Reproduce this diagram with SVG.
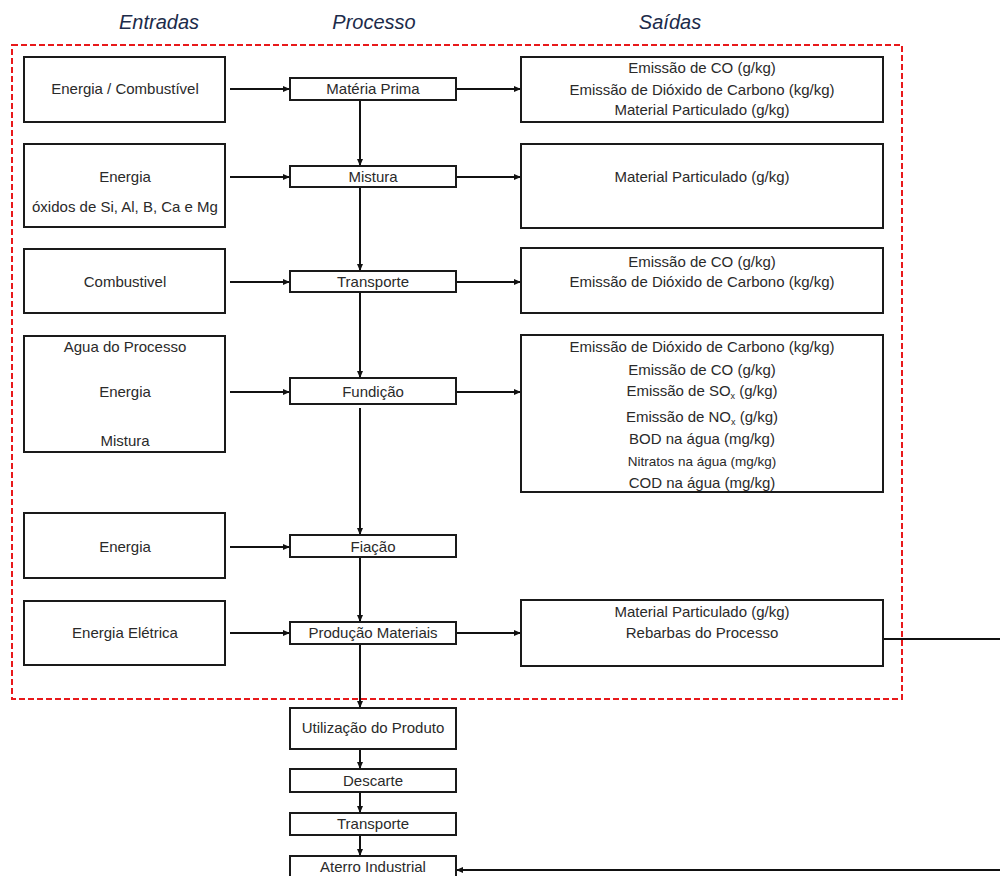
<svg xmlns="http://www.w3.org/2000/svg" width="1000" height="876" viewBox="0 0 1000 876">
<defs>
<marker id="ah" markerWidth="7" markerHeight="7" refX="6" refY="3.5" orient="auto" markerUnits="userSpaceOnUse">
<path d="M0,0.5 L7,3.5 L0,6.5 Z" fill="#111"/>
</marker>
<style>
.box{fill:#fff;stroke:#1a1a1a;stroke-width:2}
.t{font-family:"Liberation Sans",Arial,sans-serif;font-size:15px;fill:#2a2a2a;text-anchor:middle}
.s{font-size:13.5px}
.h{font-family:"Liberation Sans",Arial,sans-serif;font-size:20px;font-style:italic;fill:#1c2b4a;text-anchor:middle}
.c{fill:none;stroke:#111;stroke-width:2}
.sub{font-size:9px}
</style>
</defs>
<rect width="1000" height="876" fill="#fff"/>
<g id="headers">
<text class="h" x="159" y="29">Entradas</text>
<text class="h" x="374" y="29">Processo</text>
<text class="h" x="670" y="29">Saídas</text>
</g>
<rect id="boundary" x="12" y="45" width="890" height="654" fill="none" stroke="#e8191b" stroke-width="2" stroke-dasharray="6,3"/>
<g id="connectors">
<line class="c" x1="230" y1="89" x2="289" y2="89" marker-end="url(#ah)"/>
<line class="c" x1="230" y1="177" x2="289" y2="177" marker-end="url(#ah)"/>
<line class="c" x1="230" y1="282" x2="289" y2="282" marker-end="url(#ah)"/>
<line class="c" x1="230" y1="392" x2="289" y2="392" marker-end="url(#ah)"/>
<line class="c" x1="230" y1="547" x2="289" y2="547" marker-end="url(#ah)"/>
<line class="c" x1="230" y1="633" x2="289" y2="633" marker-end="url(#ah)"/>
<line class="c" x1="456" y1="89" x2="520" y2="89" marker-end="url(#ah)"/>
<line class="c" x1="456" y1="177" x2="520" y2="177" marker-end="url(#ah)"/>
<line class="c" x1="456" y1="282" x2="520" y2="282" marker-end="url(#ah)"/>
<line class="c" x1="456" y1="392" x2="520" y2="392" marker-end="url(#ah)"/>
<line class="c" x1="456" y1="633" x2="520" y2="633" marker-end="url(#ah)"/>
<line class="c" x1="360" y1="100" x2="360" y2="165" marker-end="url(#ah)"/>
<line class="c" x1="360" y1="187" x2="360" y2="270" marker-end="url(#ah)"/>
<line class="c" x1="360" y1="292" x2="360" y2="377" marker-end="url(#ah)"/>
<line class="c" x1="360" y1="408" x2="360" y2="534" marker-end="url(#ah)"/>
<line class="c" x1="360" y1="557" x2="360" y2="621" marker-end="url(#ah)"/>
<line class="c" x1="360" y1="644" x2="360" y2="707" marker-end="url(#ah)"/>
<line class="c" x1="360" y1="749" x2="360" y2="768" marker-end="url(#ah)"/>
<line class="c" x1="360" y1="792" x2="360" y2="812" marker-end="url(#ah)"/>
<line class="c" x1="360" y1="835" x2="360" y2="855" marker-end="url(#ah)"/>
<line class="c" x1="883" y1="639" x2="1000" y2="639"/>
<line class="c" x1="1000" y1="870" x2="457" y2="870" marker-end="url(#ah)"/>
</g>
<g id="in1"><rect class="box" x="24" y="57" width="201" height="65"/><text class="t" x="125" y="94">Energia / Combustível</text></g>
<g id="in2"><rect class="box" x="24" y="144" width="201" height="83"/><text class="t" x="125" y="182">Energia</text><text class="t" x="125" y="212">óxidos de Si, Al, B, Ca e Mg</text></g>
<g id="in3"><rect class="box" x="24" y="249" width="201" height="64"/><text class="t" x="125" y="287">Combustivel</text></g>
<g id="in4"><rect class="box" x="24" y="336" width="201" height="116"/><text class="t" x="125" y="352">Agua do Processo</text><text class="t" x="125" y="397">Energia</text><text class="t" x="125" y="446">Mistura</text></g>
<g id="in5"><rect class="box" x="24" y="513" width="201" height="65"/><text class="t" x="125" y="552">Energia</text></g>
<g id="in6"><rect class="box" x="24" y="601" width="201" height="64"/><text class="t" x="125" y="638">Energia Elétrica</text></g>
<g id="p1"><rect class="box" x="290" y="78" width="166" height="22"/><text class="t" x="373" y="94">Matéria Prima</text></g>
<g id="p2"><rect class="box" x="290" y="166" width="166" height="21"/><text class="t" x="373" y="182">Mistura</text></g>
<g id="p3"><rect class="box" x="290" y="271" width="166" height="21"/><text class="t" x="373" y="287">Transporte</text></g>
<g id="p4"><rect class="box" x="290" y="378" width="166" height="26"/><text class="t" x="373" y="397">Fundição</text></g>
<g id="p5"><rect class="box" x="290" y="535" width="166" height="22"/><text class="t" x="373" y="552">Fiação</text></g>
<g id="p6"><rect class="box" x="290" y="622" width="166" height="22"/><text class="t" x="373" y="638">Produção Materiais</text></g>
<g id="p7"><rect class="box" x="290" y="708" width="166" height="41"/><text class="t" x="373" y="733">Utilização do Produto</text></g>
<g id="p8"><rect class="box" x="290" y="769" width="166" height="23"/><text class="t" x="373" y="786">Descarte</text></g>
<g id="p9"><rect class="box" x="290" y="813" width="166" height="22"/><text class="t" x="373" y="829">Transporte</text></g>
<g id="p10"><rect class="box" x="290" y="856" width="166" height="30"/><text class="t" x="373" y="872">Aterro Industrial</text></g>
<g id="out1"><rect class="box" x="521" y="57" width="362" height="65"/><text class="t" x="702" y="73">Emissão de CO (g/kg)</text><text class="t" x="702" y="95">Emissão de Dióxido de Carbono (kg/kg)</text><text class="t" x="702" y="115">Material Particulado (g/kg)</text></g>
<g id="out2"><rect class="box" x="521" y="144" width="362" height="84"/><text class="t" x="702" y="182">Material Particulado (g/kg)</text></g>
<g id="out3"><rect class="box" x="521" y="248" width="362" height="65"/><text class="t" x="702" y="267">Emissão de CO (g/kg)</text><text class="t" x="702" y="287">Emissão de Dióxido de Carbono (kg/kg)</text></g>
<g id="out4"><rect class="box" x="521" y="335" width="362" height="157"/>
<text class="t" x="702" y="352">Emissão de Dióxido de Carbono (kg/kg)</text>
<text class="t" x="702" y="375">Emissão de CO (g/kg)</text>
<text class="t" x="702" y="396">Emissão de SO<tspan class="sub" dy="3">x</tspan><tspan dy="-3"> (g/kg)</tspan></text>
<text class="t" x="702" y="422">Emissão de NO<tspan class="sub" dy="3">x</tspan><tspan dy="-3"> (g/kg)</tspan></text>
<text class="t" x="702" y="444">BOD na água (mg/kg)</text>
<text class="t s" x="702" y="466">Nitratos na água (mg/kg)</text>
<text class="t" x="702" y="488">COD na água (mg/kg)</text></g>
<g id="out6"><rect class="box" x="521" y="600" width="362" height="66"/><text class="t" x="702" y="617">Material Particulado (g/kg)</text><text class="t" x="702" y="638">Rebarbas do Processo</text></g>
</svg>
